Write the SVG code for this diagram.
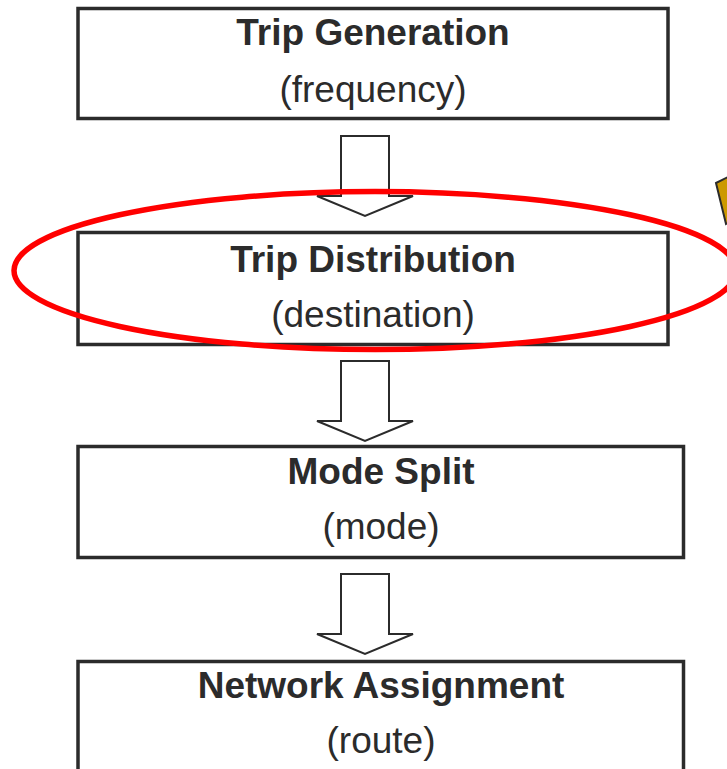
<svg xmlns="http://www.w3.org/2000/svg" width="727" height="769" viewBox="0 0 727 769">
<style>
.box{fill:#ffffff;stroke:#2b2b2b;stroke-width:3.5}
.t{font-family:"Liberation Sans",Arial,sans-serif;font-size:37px;fill:#2b2b2b;text-anchor:middle}
.b{font-weight:bold}
.arr{fill:#ffffff;stroke:#2b2b2b;stroke-width:2;stroke-linejoin:miter}
</style>
<rect width="727" height="769" fill="#ffffff"/>
<g id="trip-generation">
<rect class="box" x="78" y="8.5" width="590" height="110"/>
<text class="t b" x="373" y="45">Trip Generation</text>
<text class="t" x="373" y="102">(frequency)</text>
</g>
<g id="trip-distribution">
<rect class="box" x="78" y="232.5" width="590" height="112"/>
<text class="t b" x="373" y="271.5">Trip Distribution</text>
<text class="t" x="373" y="326.5">(destination)</text>
</g>
<g id="mode-split">
<rect class="box" x="78" y="446.5" width="605.5" height="111"/>
<text class="t b" x="381" y="484">Mode Split</text>
<text class="t" x="381" y="539">(mode)</text>
</g>
<g id="network-assignment">
<rect class="box" x="78" y="661.5" width="605.5" height="130"/>
<text class="t b" x="381" y="698">Network Assignment</text>
<text class="t" x="381" y="753">(route)</text>
</g>
<g id="connectors">
<polygon class="arr" points="341,136 389,136 389,196 413,196 365,216 317,196 341,196"/>
<polygon class="arr" points="341,361 389,361 389,421 413,421 365,441 317,421 341,421"/>
<polygon class="arr" points="341,574 389,574 389,634 413,634 365,654 317,634 341,634"/>
</g>
<g id="highlight">
<ellipse cx="375" cy="270.6" rx="361" ry="79" fill="none" stroke="#ff0000" stroke-width="5.5"/>
</g>
<g id="pointer">
<polygon points="716,183 730,176 742,214 726,224" fill="#cc9900" stroke="#2b2b2b" stroke-width="2"/>
</g>
</svg>
